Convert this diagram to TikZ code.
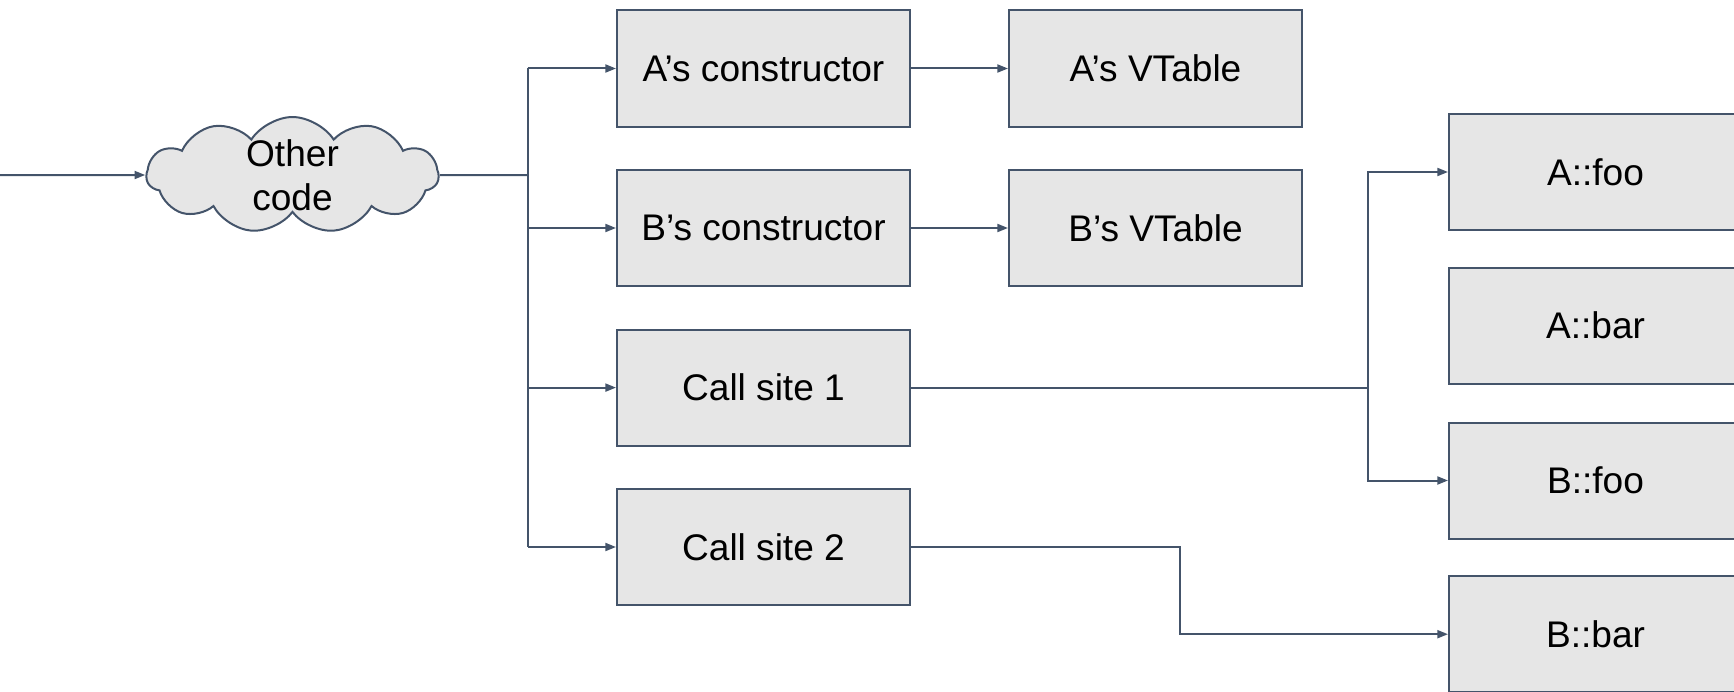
\documentclass[tikz,border=0pt]{standalone}
\usepackage{fontspec}
\setmainfont{Liberation Sans}
\usetikzlibrary{shapes.symbols,arrows.meta}

\definecolor{linec}{RGB}{68,84,106}
\definecolor{boxf}{RGB}{230,230,230}

\begin{document}
\begin{tikzpicture}[x=0.75pt,y=-0.75pt,
  font=\fontsize{27.8}{33}\selectfont,
  box/.style={draw=linec,fill=boxf,line width=1.5pt,minimum width=219.75pt,minimum height=87pt,inner sep=0pt},
  puff/.style={cloud,cloud puffs=11,cloud puff arc=115,aspect=2.6,draw=linec,fill=boxf,line width=1.5pt,minimum width=219pt,minimum height=87pt,inner sep=-14pt,align=center},
  conn/.style={draw=linec,line width=1.5pt},
  arr/.style={conn,-{Triangle[length=8pt,width=6pt]}}]
\clip (0,0) rectangle (1734,692);
% source
\node[puff] (other) at (292.5,175) {Other\\code};
\coordinate (in) at (0,175);
\coordinate (trunk) at (527.5,175);
\coordinate (fork) at (1368,0);
\coordinate (bend) at (1180,0);
% left column
\node[box] (actor) at (763.5,68.5) {A’s constructor};
\node[box] (bctor) at (763.5,228) {B’s constructor};
\node[box] (cs1) at (763.5,387.6) {Call site 1};
\node[box] (cs2) at (763.5,547) {Call site 2};
% vtables
\node[box] (avt) at (1155.5,68.5) {A’s VTable};
\node[box] (bvt) at (1155.5,228) {B’s VTable};
% methods
\node[box] (afoo) at (1595.5,172) {A::foo};
\node[box] (abar) at (1595.5,325.7) {A::bar};
\node[box] (bfoo) at (1595.5,480.5) {B::foo};
\node[box] (bbar) at (1595.5,634.2) {B::bar};
% connectors
\draw[arr] (in) -- (other.west);
\draw[conn] (other.east) -- (trunk);
\draw[conn] (trunk |- actor.west) -- (trunk |- cs2.west);
\foreach \n in {actor,bctor,cs1,cs2}
  \draw[arr] (trunk |- \n.west) -- (\n.west);
\draw[arr] (actor) -- (avt);
\draw[arr] (bctor) -- (bvt);
\draw[conn] (cs1.east) -- (fork |- cs1.east);
\draw[arr] (fork |- cs1.east) |- (afoo.west);
\draw[arr] (fork |- cs1.east) |- (bfoo.west);
\draw[arr] (cs2.east) -- (bend |- cs2.east) |- (bbar.west);
\end{tikzpicture}
\end{document}
